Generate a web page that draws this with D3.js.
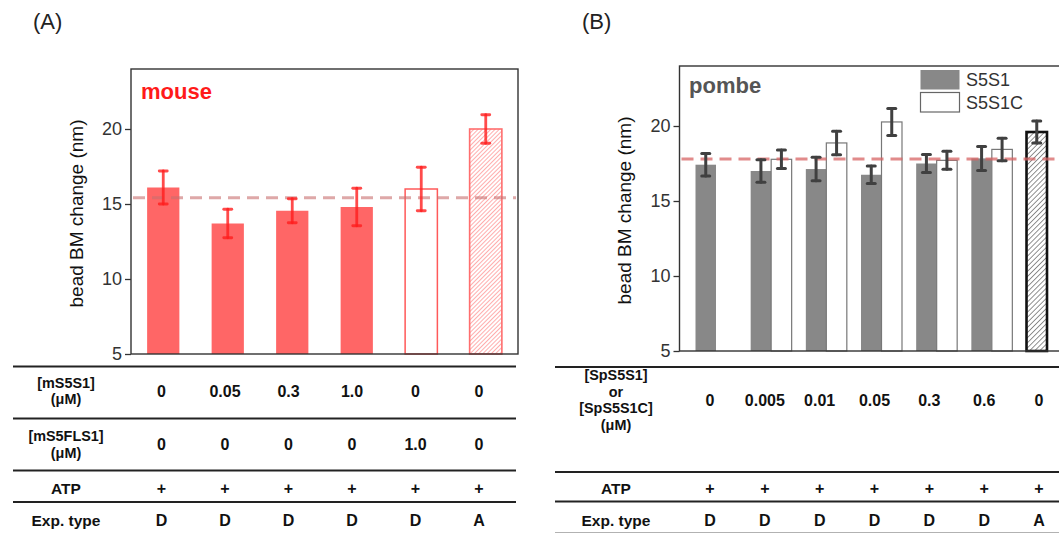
<!DOCTYPE html>
<html><head><meta charset="utf-8">
<script src="https://cdn.jsdelivr.net/npm/d3@7"></script>
<style>body{margin:0;background:#fff} svg{display:block}</style>
</head><body><svg id="c" width="1059" height="533"></svg>
<script>
// ---- Panel A: mouse ----
const mouseConcS5S1 = ["0", "0.05", "0.3", "1.0", "0", "0"];
const mouseConcS5FLS1 = ["0", "0", "0", "0", "1.0", "0"];
const mouseATP = ["+", "+", "+", "+", "+", "+"];
const mouseExpType = ["D", "D", "D", "D", "D", "A"];
const mouseValues = [16.1, 13.7, 14.55, 14.8, 16.0, 20.0];
const mouseErrors = [1.1, 0.95, 0.8, 1.25, 1.45, 0.95];
const mouseBarKind = ["solid", "solid", "solid", "solid", "open", "hatch"];
const mouseReference = 15.42;

// ---- Panel B: pombe ----
const pombeConc = ["0", "0.005", "0.01", "0.05", "0.3", "0.6", "0"];
const pombeATP = ["+", "+", "+", "+", "+", "+", "+"];
const pombeExpType = ["D", "D", "D", "D", "D", "D", "A"];
const s5s1Values = [17.42, 17.0, 17.13, 16.75, 17.5, 17.84, null];
const s5s1Errors = [0.75, 0.75, 0.78, 0.58, 0.6, 0.8, null];
const s5s1cValues = [null, 17.78, 18.87, 20.27, 17.71, 18.44, null];
const s5s1cErrors = [null, 0.62, 0.78, 0.9, 0.6, 0.75, null];
const atpOnlyValues = [null, null, null, null, null, null, 19.6];
const atpOnlyErrors = [null, null, null, null, null, null, 0.73];
const pombeReference = 17.8;

const yTicks = [5, 10, 15, 20];
const yDomain = [5, 24];

const svg = d3.select("#c");
const defs = svg.append("defs");

function hatch(id, spacing, color, width) {
  const p = defs.append("pattern").attr("id", id)
    .attr("patternUnits", "userSpaceOnUse")
    .attr("width", spacing).attr("height", spacing)
    .attr("patternTransform", "rotate(45)");
  p.append("line").attr("x1", 0).attr("y1", 0).attr("x2", 0).attr("y2", spacing)
    .attr("stroke", color).attr("stroke-width", width);
}
hatch("hatchRed", 3, "#ff5c5c", 1);
hatch("hatchBlack", 3.6, "#222", 1);

const axisFont = "'Liberation Sans', Arial, sans-serif";
const tableFont = "'Liberation Sans', Arial, sans-serif";

function frame(g, x0, x1, y, yLabelX) {
  const ax = g.append("g").attr("transform", `translate(${x0},0)`)
    .call(d3.axisLeft(y).tickValues(yTicks).tickSize(6).tickPadding(3));
  ax.select(".domain").remove();
  ax.selectAll(".tick line").attr("stroke", "#333").attr("stroke-width", 1.3);
  ax.selectAll(".tick text").attr("font-family", axisFont).attr("font-size", 18).attr("fill", "#333");
  g.append("rect").attr("x", x0).attr("y", y(yDomain[1])).attr("width", x1 - x0)
    .attr("height", y(yDomain[0]) - y(yDomain[1]))
    .attr("fill", "none").attr("stroke", "#333").attr("stroke-width", 1.4);
  const cy = (y(yDomain[0]) + y(yDomain[1])) / 2 + 2;
  g.append("text").attr("transform", `translate(${yLabelX},${cy}) rotate(-90)`)
    .attr("text-anchor", "middle").attr("font-family", axisFont).attr("font-size", 19)
    .attr("fill", "#111").text("bead BM change (nm)");
}

function errorBar(g, x, y, v, e, color, width, cap) {
  const eb = g.append("g").attr("stroke", color).attr("stroke-width", width).attr("stroke-linecap", "round");
  eb.append("line").attr("x1", x).attr("x2", x).attr("y1", y(v - e)).attr("y2", y(v + e));
  [v - e, v + e].forEach(t => eb.append("line")
    .attr("x1", x - cap / 2).attr("x2", x + cap / 2).attr("y1", y(t)).attr("y2", y(t)));
}

function refLine(g, x0, x1, yv, color) {
  g.append("line").attr("x1", x0).attr("x2", x1).attr("y1", yv).attr("y2", yv)
    .attr("stroke", color).attr("stroke-width", 3).attr("stroke-dasharray", "12,7");
}

function table(g, x0, x1, labelX, colX, rows) {
  rows.forEach(r => {
    g.append("line").attr("x1", x0).attr("x2", x1).attr("y1", r.top).attr("y2", r.top)
      .attr("stroke", "#222").attr("stroke-width", 2.2);
    const n = r.label.length;
    const fs = n > 1 ? 14.4 : 15.5;
    // row header, one line per tspan
    const lbl = g.append("text").attr("text-anchor", "middle").attr("font-family", tableFont)
      .attr("font-weight", 700).attr("font-size", fs).attr("fill", "#111");
    r.label.forEach((t, i) => lbl.append("tspan").attr("x", labelX)
      .attr("y", r.mid + (i - (n - 1) / 2) * r.lh).attr("dy", "0.36em").text(t));
    r.values.forEach((t, i) => g.append("text").attr("x", colX(i)).attr("y", r.mid).attr("dy", "0.36em")
      .attr("text-anchor", "middle").attr("font-family", tableFont).attr("font-weight", 700)
      .attr("font-size", 16).attr("fill", "#111").text(t));
  });
}

// ===== Panel A =====
{
  const g = svg.append("g");
  const left = 131, right = 518;
  const y = d3.scaleLinear().domain(yDomain).range([354, 69]);
  const x = d3.scaleBand().domain(d3.range(mouseValues.length)).range([left, right]).paddingInner(0.5).paddingOuter(0.25);

  g.append("text").attr("x", 33).attr("y", 29).attr("font-family", axisFont).attr("font-size", 22)
    .attr("fill", "#222").text("(A)");

  mouseValues.forEach((v, i) => {
    const k = mouseBarKind[i];
    const r = g.append("rect").attr("x", x(i)).attr("y", y(v)).attr("width", x.bandwidth())
      .attr("height", y(yDomain[0]) - y(v));
    if (k === "solid") r.attr("fill", "#ff6666");
    else if (k === "open") r.attr("fill", "#fff").attr("stroke", "#ff5959").attr("stroke-width", 1.5);
    else r.attr("fill", "url(#hatchRed)").attr("stroke", "#ff6e6e").attr("stroke-width", 1.6);
  });
  refLine(g, left + 2, right - 2, y(mouseReference), "rgba(200,110,110,0.6)");
  mouseValues.forEach((v, i) =>
    errorBar(g, x(i) + x.bandwidth() / 2, y, v, mouseErrors[i], "rgba(255,30,30,0.8)", 2.8, 8));
  frame(g, left, right, y, 83);

  g.append("text").attr("x", 141).attr("y", 99).attr("font-family", axisFont).attr("font-weight", 700)
    .attr("font-size", 22).attr("fill", "#ff1a1a").text("mouse");

  const col = d3.scalePoint().domain(d3.range(mouseValues.length)).range([161.5, 479]);
  table(g, 13, 516, 66, col, [
    { top: 366.5, mid: 391, lh: 16.6, label: ["[mS5S1]", "(μM)"], values: mouseConcS5S1 },
    { top: 418.5, mid: 444.5, lh: 17.2, label: ["[mS5FLS1]", "(μM)"], values: mouseConcS5FLS1 },
    { top: 470.5, mid: 488.5, lh: 16, label: ["ATP"], values: mouseATP },
    { top: 502, mid: 520.5, lh: 16, label: ["Exp. type"], values: mouseExpType }
  ]);
}

// ===== Panel B =====
{
  const g = svg.append("g");
  const left = 679.5, right = 1083.5;
  const y = d3.scaleLinear().domain(yDomain).range([351, 66]);
  const x = d3.scaleBand().domain(d3.range(pombeConc.length)).range([left, right]).paddingInner(0.257).paddingOuter(0.29);
  const bw = x.bandwidth() / 2;

  g.append("text").attr("x", 582).attr("y", 29).attr("font-family", axisFont).attr("font-size", 22)
    .attr("fill", "#222").text("(B)");

  const series = [
    { values: s5s1Values, errors: s5s1Errors, off: 0, fill: "#888888", stroke: "none", sw: 0 },
    { values: s5s1cValues, errors: s5s1cErrors, off: bw, fill: "#fff", stroke: "#777", sw: 1.2 },
    { values: atpOnlyValues, errors: atpOnlyErrors, off: 0, fill: "url(#hatchBlack)", stroke: "#111", sw: 2.6 }
  ];
  series.forEach(s => s.values.forEach((v, i) => {
    if (v == null) return;
    g.append("rect").attr("x", x(i) + s.off).attr("y", y(v)).attr("width", bw)
      .attr("height", y(yDomain[0]) - y(v))
      .attr("fill", s.fill).attr("stroke", s.stroke).attr("stroke-width", s.sw);
  }));
  refLine(g, left + 2, 1059, y(pombeReference), "rgba(215,100,100,0.75)");
  series.forEach(s => s.values.forEach((v, i) => {
    if (v == null) return;
    errorBar(g, x(i) + s.off + bw / 2, y, v, s.errors[i], "#404040", 3, 8);
  }));
  frame(g, left, right, y, 631);

  g.append("text").attr("x", 689).attr("y", 93).attr("font-family", axisFont).attr("font-weight", 700)
    .attr("font-size", 22).attr("fill", "#555").text("pombe");

  // legend
  const legend = [
    { name: "S5S1", fill: "#888888", stroke: "none", y: 70 },
    { name: "S5S1C", fill: "#fff", stroke: "#666", y: 92.5 }
  ];
  legend.forEach(d => {
    g.append("rect").attr("x", 920.5).attr("y", d.y).attr("width", 39).attr("height", 19.5)
      .attr("fill", d.fill).attr("stroke", d.stroke).attr("stroke-width", 1.2);
    g.append("text").attr("x", 966).attr("y", d.y + 10).attr("dy", "0.36em")
      .attr("font-family", axisFont).attr("font-size", 18).attr("fill", "#333").text(d.name);
  });

  const col = d3.scalePoint().domain(d3.range(pombeConc.length)).range([710, 1039]);
  table(g, 555, 1059, 616, col, [
    { top: 367, mid: 400, lh: 16.6, label: ["[SpS5S1]", "or", "[SpS5S1C]", "(μM)"], values: pombeConc },
    { top: 472, mid: 488.5, lh: 16, label: ["ATP"], values: pombeATP },
    { top: 501.5, mid: 520.5, lh: 16, label: ["Exp. type"], values: pombeExpType }
  ]);
  g.append("line").attr("x1", 555).attr("x2", 1059).attr("y1", 533).attr("y2", 533)
    .attr("stroke", "#999").attr("stroke-width", 1.5);
}
</script>
</body></html>
